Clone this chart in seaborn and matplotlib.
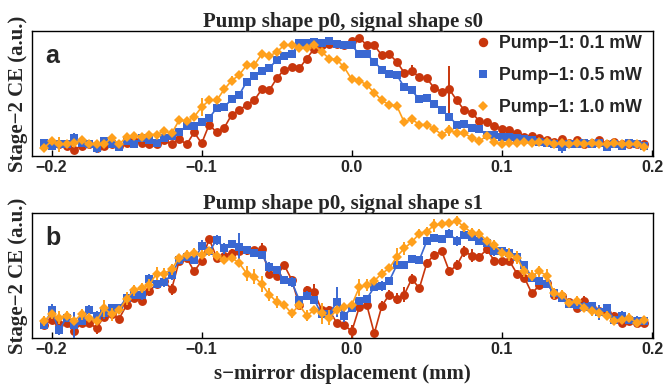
import numpy as np
import pandas as pd
import matplotlib
matplotlib.use('Agg')
import matplotlib.pyplot as plt
from matplotlib.lines import Line2D
import seaborn as sns

# s-mirror positions (mm), one reading every 5 um
x = np.linspace(-0.205, 0.195, 81)

pumps = ['Pump\u22121: 0.1 mW', 'Pump\u22121: 0.5 mW', 'Pump\u22121: 1.0 mW']
colors = ['#c8360c', '#3a68d2', '#ffa01c']
markers = ['o', 's', 'D']
msizes = [6.4, 5.2, 5.0]

# panel a: signal shape s0
a_red = [0.05, 0.05, 0.05, 0.04, 0.00, 0.04, 0.05, 0.02, 0.04, 0.05,
         0.04, 0.06, 0.08, 0.06, 0.05, 0.05, 0.09, 0.05, 0.10, 0.05,
         0.16, 0.06, 0.23, 0.16, 0.20, 0.32, 0.36, 0.41, 0.45, 0.55,
         0.54, 0.65, 0.73, 0.75, 0.74, 0.83, 0.92, 0.95, 0.96, 0.96,
         0.95, 0.99, 1.02, 0.95, 0.95, 0.86, 0.87, 0.80, 0.70, 0.72,
         0.66, 0.65, 0.56, 0.53, 0.55, 0.45, 0.36, 0.34, 0.26, 0.25,
         0.22, 0.19, 0.18, 0.15, 0.12, 0.13, 0.11, 0.09, 0.07, 0.10,
         0.06, 0.09, 0.05, 0.06, 0.09, 0.05, 0.07, 0.05, 0.05, 0.05,
         0.05]
a_blue = [0.06, 0.04, 0.05, 0.05, 0.11, 0.06, 0.05, 0.02, 0.08, 0.05,
          0.03, 0.08, 0.05, 0.11, 0.09, 0.06, 0.11, 0.13, 0.16, 0.22,
          0.22, 0.25, 0.29, 0.38, 0.39, 0.46, 0.50, 0.62, 0.67, 0.72,
          0.74, 0.82, 0.85, 0.87, 0.97, 0.97, 0.98, 0.97, 0.99, 0.96,
          0.95, 0.95, 0.87, 0.87, 0.80, 0.73, 0.69, 0.68, 0.57, 0.54,
          0.46, 0.47, 0.42, 0.36, 0.30, 0.23, 0.24, 0.20, 0.19, 0.14,
          0.14, 0.12, 0.12, 0.11, 0.10, 0.09, 0.07, 0.06, 0.05, 0.03,
          0.05, 0.05, 0.06, 0.05, 0.06, 0.03, 0.05, 0.04, 0.06, 0.05,
          0.04]
a_orange = [0.02, 0.08, 0.05, 0.05, 0.06, 0.09, 0.05, 0.05, 0.05, 0.11,
            0.05, 0.12, 0.13, 0.12, 0.14, 0.14, 0.17, 0.15, 0.27, 0.26,
            0.30, 0.39, 0.45, 0.45, 0.55, 0.63, 0.68, 0.77, 0.77, 0.87,
            0.85, 0.89, 0.95, 0.95, 0.93, 0.93, 0.95, 0.89, 0.83, 0.82,
            0.75, 0.64, 0.63, 0.59, 0.52, 0.45, 0.41, 0.40, 0.25, 0.28,
            0.23, 0.23, 0.19, 0.14, 0.18, 0.15, 0.15, 0.11, 0.08, 0.13,
            0.07, 0.05, 0.06, 0.06, 0.07, 0.06, 0.07, 0.07, 0.05, 0.06,
            0.05, 0.06, 0.05, 0.06, 0.05, 0.05, 0.06, 0.05, 0.05, 0.05,
            0.03]
ea_red = [0.02, 0.02, 0.02, 0.02, 0.02, 0.02, 0.02, 0.02, 0.02, 0.02,
          0.02, 0.02, 0.02, 0.02, 0.02, 0.02, 0.02, 0.02, 0.02, 0.02,
          0.02, 0.02, 0.02, 0.02, 0.02, 0.02, 0.02, 0.02, 0.02, 0.02,
          0.02, 0.02, 0.02, 0.02, 0.02, 0.02, 0.02, 0.02, 0.02, 0.02,
          0.02, 0.02, 0.02, 0.02, 0.02, 0.03, 0.02, 0.02, 0.03, 0.05,
          0.02, 0.02, 0.02, 0.02, 0.21, 0.02, 0.02, 0.02, 0.02, 0.02,
          0.02, 0.02, 0.02, 0.02, 0.02, 0.02, 0.02, 0.02, 0.02, 0.03,
          0.02, 0.02, 0.02, 0.02, 0.02, 0.02, 0.02, 0.02, 0.02, 0.02,
          0.02]
ea_blue = [0.04, 0.02, 0.02, 0.03, 0.04, 0.03, 0.02, 0.05, 0.02, 0.02,
           0.04, 0.02, 0.02, 0.03, 0.02, 0.02, 0.03, 0.02, 0.02, 0.02,
           0.02, 0.02, 0.02, 0.03, 0.03, 0.02, 0.02, 0.03, 0.02, 0.03,
           0.02, 0.02, 0.02, 0.02, 0.02, 0.02, 0.02, 0.02, 0.03, 0.02,
           0.02, 0.02, 0.03, 0.02, 0.02, 0.02, 0.02, 0.02, 0.02, 0.02,
           0.02, 0.03, 0.02, 0.02, 0.02, 0.02, 0.02, 0.02, 0.02, 0.02,
           0.02, 0.02, 0.02, 0.02, 0.02, 0.02, 0.02, 0.02, 0.02, 0.06,
           0.02, 0.02, 0.02, 0.02, 0.02, 0.04, 0.02, 0.02, 0.02, 0.02,
           0.02]
ea_orange = [0.03, 0.03, 0.07, 0.02, 0.03, 0.03, 0.02, 0.02, 0.02, 0.03,
             0.02, 0.03, 0.02, 0.02, 0.02, 0.02, 0.03, 0.02, 0.03, 0.02,
             0.02, 0.08, 0.03, 0.02, 0.02, 0.04, 0.02, 0.03, 0.02, 0.02,
             0.02, 0.02, 0.02, 0.02, 0.02, 0.02, 0.02, 0.02, 0.02, 0.02,
             0.02, 0.03, 0.03, 0.02, 0.02, 0.02, 0.02, 0.02, 0.03, 0.04,
             0.02, 0.02, 0.02, 0.02, 0.05, 0.02, 0.02, 0.02, 0.02, 0.02,
             0.02, 0.02, 0.02, 0.02, 0.02, 0.02, 0.02, 0.04, 0.02, 0.02,
             0.02, 0.02, 0.02, 0.02, 0.02, 0.02, 0.02, 0.02, 0.02, 0.02,
             0.02]

# panel b: signal shape s1
b_red = [0.01, 0.06, 0.02, 0.03, -0.05, 0.03, 0.03, -0.02, 0.09, 0.11,
         0.07, 0.20, 0.27, 0.24, 0.33, 0.40, 0.43, 0.35, 0.62, 0.65,
         0.52, 0.62, 0.83, 0.65, 0.67, 0.70, 0.71, 0.72, 0.72, 0.73,
         0.50, 0.48, 0.58, 0.44, 0.20, 0.34, 0.32, 0.15, 0.15, 0.03,
         0.01, -0.05, 0.18, 0.20, -0.07, 0.19, 0.30, 0.26, 0.30, 0.45,
         0.36, 0.60, 0.68, 0.71, 0.52, 0.58, 0.71, 0.67, 0.66, 0.73,
         0.62, 0.62, 0.62, 0.50, 0.46, 0.31, 0.39, 0.41, 0.30, 0.29,
         0.23, 0.17, 0.24, 0.17, 0.14, 0.12, 0.10, 0.03, 0.05, 0.03,
         0.03]
b_blue = [0.01, 0.15, -0.04, 0.08, 0.01, 0.05, 0.15, 0.10, 0.12, 0.17,
          0.17, 0.27, 0.30, 0.30, 0.45, 0.40, 0.42, 0.49, 0.63, 0.66,
          0.63, 0.76, 0.71, 0.82, 0.74, 0.78, 0.75, 0.72, 0.70, 0.68,
          0.56, 0.53, 0.44, 0.42, 0.25, 0.29, 0.25, 0.11, 0.11, 0.23,
          0.10, 0.17, 0.24, 0.26, 0.37, 0.38, 0.43, 0.58, 0.58, 0.64,
          0.63, 0.81, 0.84, 0.83, 0.88, 0.81, 0.87, 0.85, 0.81, 0.79,
          0.71, 0.71, 0.70, 0.66, 0.58, 0.46, 0.43, 0.40, 0.31, 0.27,
          0.21, 0.20, 0.18, 0.19, 0.13, 0.17, 0.06, 0.10, 0.06, 0.05,
          0.05]
b_orange = [0.05, 0.11, 0.08, 0.10, 0.05, 0.11, 0.08, 0.05, 0.17, 0.11,
            0.15, 0.26, 0.34, 0.36, 0.39, 0.50, 0.50, 0.54, 0.65, 0.68,
            0.70, 0.68, 0.71, 0.67, 0.63, 0.65, 0.60, 0.50, 0.47, 0.40,
            0.30, 0.23, 0.20, 0.12, 0.20, 0.10, 0.15, 0.12, 0.08, 0.15,
            0.18, 0.20, 0.37, 0.39, 0.43, 0.50, 0.55, 0.66, 0.74, 0.80,
            0.88, 0.90, 0.96, 0.97, 0.98, 1.00, 0.94, 0.89, 0.88, 0.81,
            0.77, 0.70, 0.68, 0.65, 0.52, 0.48, 0.52, 0.48, 0.31, 0.30,
            0.22, 0.24, 0.17, 0.14, 0.12, 0.10, 0.05, 0.06, 0.08, 0.03,
            0.06]
eb_red = [0.03, 0.04, 0.03, 0.03, 0.05, 0.03, 0.03, 0.06, 0.03, 0.03,
          0.03, 0.03, 0.03, 0.04, 0.04, 0.03, 0.03, 0.05, 0.03, 0.03,
          0.03, 0.04, 0.03, 0.03, 0.04, 0.03, 0.03, 0.04, 0.03, 0.06,
          0.03, 0.03, 0.03, 0.04, 0.03, 0.04, 0.08, 0.03, 0.04, 0.03,
          0.03, 0.06, 0.04, 0.03, 0.03, 0.05, 0.04, 0.05, 0.07, 0.05,
          0.03, 0.04, 0.03, 0.03, 0.04, 0.05, 0.05, 0.06, 0.04, 0.04,
          0.04, 0.05, 0.03, 0.03, 0.04, 0.03, 0.04, 0.03, 0.03, 0.03,
          0.04, 0.03, 0.05, 0.05, 0.03, 0.04, 0.03, 0.03, 0.03, 0.03,
          0.03]
eb_blue = [0.03, 0.06, 0.05, 0.03, 0.12, 0.03, 0.05, 0.04, 0.05, 0.03,
           0.04, 0.04, 0.04, 0.05, 0.05, 0.04, 0.05, 0.05, 0.04, 0.04,
           0.04, 0.06, 0.04, 0.05, 0.05, 0.04, 0.14, 0.03, 0.03, 0.03,
           0.05, 0.03, 0.03, 0.05, 0.04, 0.04, 0.04, 0.05, 0.04, 0.14,
           0.06, 0.04, 0.04, 0.04, 0.04, 0.05, 0.04, 0.04, 0.04, 0.04,
           0.04, 0.04, 0.03, 0.03, 0.04, 0.05, 0.04, 0.04, 0.04, 0.03,
           0.04, 0.04, 0.03, 0.04, 0.04, 0.04, 0.04, 0.04, 0.04, 0.04,
           0.04, 0.04, 0.05, 0.04, 0.07, 0.04, 0.04, 0.04, 0.04, 0.05,
           0.04]
eb_orange = [0.05, 0.04, 0.06, 0.04, 0.04, 0.05, 0.04, 0.04, 0.08, 0.06,
             0.04, 0.06, 0.05, 0.05, 0.06, 0.06, 0.05, 0.05, 0.04, 0.04,
             0.04, 0.04, 0.04, 0.04, 0.04, 0.04, 0.04, 0.07, 0.07, 0.08,
             0.06, 0.06, 0.04, 0.04, 0.04, 0.05, 0.04, 0.10, 0.07, 0.04,
             0.04, 0.04, 0.08, 0.06, 0.04, 0.04, 0.04, 0.08, 0.06, 0.04,
             0.04, 0.04, 0.06, 0.04, 0.04, 0.05, 0.04, 0.04, 0.04, 0.04,
             0.05, 0.04, 0.06, 0.06, 0.05, 0.05, 0.05, 0.06, 0.05, 0.04,
             0.04, 0.05, 0.04, 0.04, 0.04, 0.04, 0.04, 0.04, 0.04, 0.04,
             0.04]

panels = [
    ('a', 'Pump shape p0, signal shape s0', [a_red, a_blue, a_orange],
     [ea_red, ea_blue, ea_orange], (-0.055, 1.08)),
    ('b', 'Pump shape p0, signal shape s1', [b_red, b_blue, b_orange],
     [eb_red, eb_blue, eb_orange], (-0.114, 1.076)),
]

sns.set_theme(style='white')
serif = 'Liberation Serif'
sans = 'Liberation Sans'

fig = plt.figure(figsize=(6.63, 3.91), dpi=100)
boxes = [[0.0483, 0.601, 0.9367, 0.3197], [0.0483, 0.1355, 0.9367, 0.3197]]

for box, (letter, title, ys, es, ylim) in zip(boxes, panels):
    ax = fig.add_axes(box)
    for i in range(3):
        df = pd.DataFrame({'x': x, 'ce': ys[i]})
        ax.errorbar(df['x'], df['ce'], yerr=es[i], fmt='none', ecolor=colors[i],
                    elinewidth=1.4, capsize=0, zorder=2 + i)
        sns.lineplot(data=df, x='x', y='ce', ax=ax, color=colors[i], marker=markers[i],
                     markersize=msizes[i], markeredgewidth=0, linewidth=1.2,
                     errorbar=None, zorder=2 + i)
    ax.set_xlim(-0.213, 0.2007)
    ax.set_ylim(*ylim)
    ax.set_yticks([])
    ax.set_xticks([-0.2, -0.1, 0.0, 0.1, 0.2])
    ax.set_xticklabels(['\u22120.2', '\u22120.1', '0.0', '0.1', '0.2'],
                       family=sans, fontweight='bold', fontsize=11.5)
    ax.tick_params(axis='x', direction='in', length=4, width=1, color='black',
                   bottom=True, pad=3)
    for sp in ax.spines.values():
        sp.set_color('black')
        sp.set_linewidth(1.0)
    ax.set_xlabel('')
    ax.set_ylabel('Stage\u22122 CE (a.u.)', family=serif, fontweight='bold',
                  fontsize=15, labelpad=3)
    ax.set_title(title, family=serif, fontweight='bold', fontsize=15, pad=3)
    ax.text(0.022, 0.9, letter, transform=ax.transAxes, family=sans,
            fontweight='bold', fontsize=18, va='top', ha='left')
    if letter == 'a':
        handles = [Line2D([], [], color=colors[i], marker=markers[i], linestyle='none',
                          markersize=msizes[i] + 0.4, markeredgewidth=0) for i in range(3)]
        ax.legend(handles, pumps, loc='upper right', frameon=False,
                  prop={'family': sans, 'weight': 'bold', 'size': 12.8},
                  handletextpad=0.3, labelspacing=0.85, borderaxespad=0.05,
                  handlelength=1.2, bbox_to_anchor=(0.995, 1.03))
    else:
        ax.set_xlabel('s\u2212mirror displacement (mm)', family=serif,
                      fontweight='bold', fontsize=15, labelpad=5)

fig.savefig('out.png', dpi=100)
